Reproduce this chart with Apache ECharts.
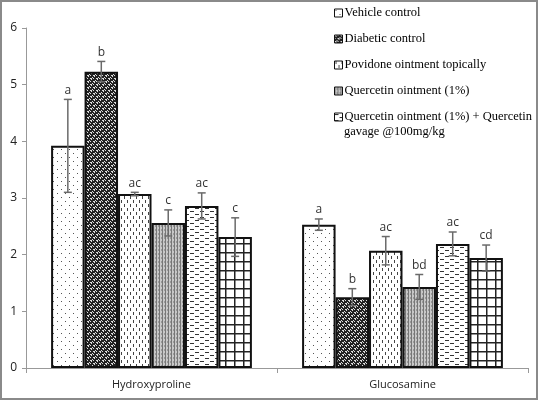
<!DOCTYPE html>
<html><head><meta charset="utf-8">
<script src="https://cdn.jsdelivr.net/npm/echarts@6/dist/echarts.min.js"></script>
<style>html,body{margin:0;padding:0;background:#fff}#c{width:538px;height:400px}</style>
</head><body><div id="c"></div>
<script>
var categories = ['Hydroxyproline', 'Glucosamine'];
var seriesNames = ['Vehicle control', 'Diabetic control', 'Povidone ointment topically', 'Quercetin ointment (1%)', 'Quercetin ointment (1%) + Quercetin gavage @100mg/kg', 'Quercetin gavage'];
var vehicle = [3.92, 2.53];
var diabetic = [5.23, 1.25];
var povidone = [3.07, 2.07];
var quercetin = [2.56, 1.43];
var quercetinCombo = [2.86, 2.19];
var quercetinGavage = [2.31, 1.94];
var vehicleErr = [0.82, 0.10];
var diabeticErr = [0.18, 0.15];
var povidoneErr = [0.03, 0.25];
var quercetinErr = [0.23, 0.22];
var quercetinComboErr = [0.23, 0.21];
var quercetinGavageErr = [0.34, 0.23];
var vehicleLetters = ['a', 'a'];
var diabeticLetters = ['b', 'b'];
var povidoneLetters = ['ac', 'ac'];
var quercetinLetters = ['c', 'bd'];
var quercetinComboLetters = ['ac', 'ac'];
var quercetinGavageLetters = ['c', 'cd'];
var yTicks = [0, 1, 2, 3, 4, 5, 6];

var means = [vehicle, diabetic, povidone, quercetin, quercetinCombo, quercetinGavage];
var errs = [vehicleErr, diabeticErr, povidoneErr, quercetinErr, quercetinComboErr, quercetinGavageErr];
var letters = [vehicleLetters, diabeticLetters, povidoneLetters, quercetinLetters, quercetinComboLetters, quercetinGavageLetters];

function pat(kind) {
  var c = document.createElement('canvas');
  var ctx;
  if (kind === 'dots') {
    c.width = 8; c.height = 8; ctx = c.getContext('2d');
    ctx.fillStyle = '#fff'; ctx.fillRect(0, 0, 8, 8);
    ctx.fillStyle = '#555';
    ctx.fillRect(1, 1, 1, 1); ctx.fillRect(5, 5, 1, 1);
  } else if (kind === 'dense') {
    c.width = 6; c.height = 6; ctx = c.getContext('2d');
    ctx.fillStyle = '#222'; ctx.fillRect(0, 0, 6, 6);
    ctx.fillStyle = '#ddd';
    ctx.fillRect(0, 0, 2, 1); ctx.fillRect(1, 1, 1, 1);
    ctx.fillRect(3, 3, 2, 1); ctx.fillRect(4, 4, 1, 1);
    ctx.fillRect(3, 0, 1, 1); ctx.fillRect(0, 3, 1, 1);
    ctx.fillRect(5, 2, 1, 1); ctx.fillRect(2, 5, 1, 1);
  } else if (kind === 'vdash') {
    c.width = 6; c.height = 8; ctx = c.getContext('2d');
    ctx.fillStyle = '#fff'; ctx.fillRect(0, 0, 6, 8);
    ctx.fillStyle = '#444';
    ctx.fillRect(1, 0, 1, 3); ctx.fillRect(4, 4, 1, 3);
  } else if (kind === 'vlines') {
    c.width = 3; c.height = 4; ctx = c.getContext('2d');
    ctx.fillStyle = '#c8c8c8'; ctx.fillRect(0, 0, 3, 4);
    ctx.fillStyle = '#777';
    ctx.fillRect(0, 0, 1, 4);
    ctx.fillStyle = '#999'; ctx.fillRect(2, 1, 1, 2);
  } else if (kind === 'hdash') {
    c.width = 10; c.height = 6; ctx = c.getContext('2d');
    ctx.fillStyle = '#fff'; ctx.fillRect(0, 0, 10, 6);
    ctx.fillStyle = '#333';
    ctx.fillRect(0, 1, 4, 1); ctx.fillRect(5, 4, 4, 1);
  } else {
    c.width = 9; c.height = 9; ctx = c.getContext('2d');
    ctx.fillStyle = '#fff'; ctx.fillRect(0, 0, 9, 9);
    ctx.fillStyle = '#222';
    ctx.fillRect(0, 0, 9, 1.5); ctx.fillRect(0, 0, 1.5, 9);
  }
  return { image: c, repeat: 'repeat' };
}
var kinds = ['dots', 'dense', 'vdash', 'vlines', 'hdash', 'grid'];

function errRender(si) {
  return function (params, api) {
    var ci = api.value(0), lo = api.value(1), hi = api.value(2);
    var bandW = api.size([1, 0])[0];
    var bw = bandW * 0.8 / 6;
    var cx = api.coord([ci, 0])[0] + (si - 2.5) * bw;
    var yt = api.coord([ci, hi])[1], yl = api.coord([ci, lo])[1];
    var cap = 4, st = { stroke: '#6a6a6a', lineWidth: 1.5 };
    return { type: 'group', children: [
      { type: 'line', shape: { x1: cx, y1: yt, x2: cx, y2: yl }, style: st },
      { type: 'line', shape: { x1: cx - cap, y1: yt, x2: cx + cap, y2: yt }, style: st },
      { type: 'line', shape: { x1: cx - cap, y1: yl, x2: cx + cap, y2: yl }, style: st },
      { type: 'text', style: { text: letters[si][ci], x: cx, y: yt - 3, align: 'center', verticalAlign: 'bottom',
        font: '12px "Open Sans"', fill: '#333' } }
    ] };
  };
}

var series = [];
for (var i = 0; i < 6; i++) {
  series.push({
    name: seriesNames[i], type: 'bar', data: means[i], barGap: 0, barCategoryGap: '20%',
    itemStyle: { color: pat(kinds[i]), borderColor: '#111', borderWidth: 2 },
    emphasis: { disabled: true }, z: 2
  });
}
for (var j = 0; j < 6; j++) {
  var d = [];
  for (var k = 0; k < categories.length; k++) d.push([k, means[j][k] - errs[j][k], means[j][k] + errs[j][k]]);
  series.push({ name: 'err' + j, type: 'custom', renderItem: errRender(j), data: d, encode: { x: 0, y: [1, 2] }, z: 5, silent: true });
}

var legendFont = { fontFamily: 'Liberation Serif', fontSize: 12.5, color: '#000', lineHeight: 14 };
var chart = echarts.init(document.getElementById('c'), null, { renderer: 'canvas' });
chart.setOption({
  animation: false,
  backgroundColor: '#fff',
  grid: { left: 26, right: 10, top: 28, bottom: 32 },
  legend: {
    data: seriesNames.slice(0, 5), orient: 'vertical', left: 334, top: 6, padding: 0,
    itemWidth: 8, itemHeight: 8, itemGap: 12, icon: 'rect',
    itemStyle: { borderColor: '#111', borderWidth: 1 },
    textStyle: Object.assign({ padding: [0, 0, 0, -3] }, legendFont),
    formatter: function (n) { return n.replace(' gavage @100mg/kg', ''); },
    selectedMode: false
  },
  xAxis: {
    type: 'category', data: categories,
    axisLine: { lineStyle: { color: '#999', width: 1 } },
    axisTick: { show: true, alignWithLabel: false, length: 5, lineStyle: { color: '#999' } },
    axisLabel: { fontFamily: 'Open Sans', fontSize: 11, color: '#222', margin: 11 }
  },
  yAxis: {
    type: 'value', min: 0, max: 6, interval: 1,
    axisLine: { show: true, lineStyle: { color: '#999', width: 1 } },
    axisTick: { show: true, length: 4, lineStyle: { color: '#999' } },
    splitLine: { show: false },
    axisLabel: { fontFamily: 'Open Sans', fontSize: 12, color: '#222', margin: 9 }
  },
  graphic: [
    { type: 'rect', shape: { x: 1, y: 1, width: 536, height: 398 }, style: { fill: null, stroke: '#8a8a8a', lineWidth: 2 }, silent: true, z: 100 },
    { type: 'text', left: 344, top: 125, style: { text: 'gavage @100mg/kg', font: '12.5px "Liberation Serif"', fill: '#000' }, silent: true }
  ],
  series: series
});
</script></body></html>
